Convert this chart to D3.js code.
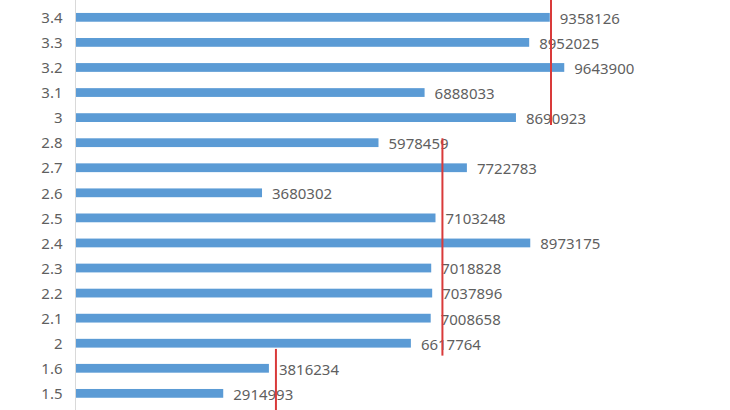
<!DOCTYPE html>
<html><head><meta charset="utf-8">
<script src="https://cdn.jsdelivr.net/npm/d3@7"></script>
<style>html,body{margin:0;padding:0;background:#fff;overflow:hidden}</style>
</head><body>
<script>
const categories = ["3.4","3.3","3.2","3.1","3","2.8","2.7","2.6","2.5","2.4","2.3","2.2","2.1","2","1.6","1.5"];
const values = [9358126,8952025,9643900,6888033,8690923,5978459,7722783,3680302,7103248,8973175,7018828,7037896,7008658,6617764,3816234,2914993];
// red marker lines: value, from category, to category
const markerValues = [9382000, 7240000, 3955000];
const markerFrom = ["3.4","2.8","1.6"];
const markerTo = ["3","2","1.5"];

const W = 730, H = 410;
const svg = d3.select("body").append("svg").attr("width", W).attr("height", H);

const x = d3.scaleLinear().domain([0, 10000000]).range([75.5, 582.3]);
const y = d3.scaleBand().domain(categories).range([4.8, 405.9]).paddingInner(0.65).paddingOuter(0.325);

const font = "'Noto Sans', 'Open Sans', sans-serif";

// axis line
svg.append("line").attr("x1", 75.5).attr("x2", 75.5).attr("y1", 0).attr("y2", H)
  .attr("stroke", "#d9d9d9").attr("stroke-width", 1);

const yAxis = d3.axisLeft(y).tickSize(0).tickPadding(13);
const ga = svg.append("g").attr("transform", "translate(75.5,0)").call(yAxis);
ga.select(".domain").remove();
ga.selectAll("text").attr("font-family", font).attr("font-size", 15).attr("fill", "#5f5f5f").attr("dy", "0.38em");

const data = categories.map((c, i) => ({c, v: values[i]}));
svg.selectAll("rect.bar").data(data).enter().append("rect")
  .attr("class", "bar")
  .attr("x", x(0) + 0.5)
  .attr("y", d => y(d.c))
  .attr("width", d => x(d.v) - x(0) - 0.5)
  .attr("height", y.bandwidth())
  .attr("fill", "#5b9bd5");

svg.selectAll("text.val").data(data).enter().append("text")
  .attr("class", "val")
  .attr("x", d => x(d.v) + 10)
  .attr("y", d => y(d.c) + y.bandwidth() / 2 + 1)
  .attr("dy", "0.36em")
  .attr("font-family", font).attr("font-size", 15).attr("fill", "#5f5f5f")
  .text(d => d.v);

// red marker lines
const markers = markerValues.map((v, i) => ({v, from: markerFrom[i], to: markerTo[i]}));
const ext = [[-20, 3], [0, 8], [-15, 40]];
svg.selectAll("line.mk").data(markers).enter().append("line")
  .attr("class", "mk")
  .attr("x1", d => x(d.v)).attr("x2", d => x(d.v))
  .attr("y1", (d, i) => y(d.from) + ext[i][0])
  .attr("y2", (d, i) => y(d.to) + y.bandwidth() + ext[i][1])
  .attr("stroke", "#d93a3a").attr("stroke-width", 2);
</script>
</body></html>
